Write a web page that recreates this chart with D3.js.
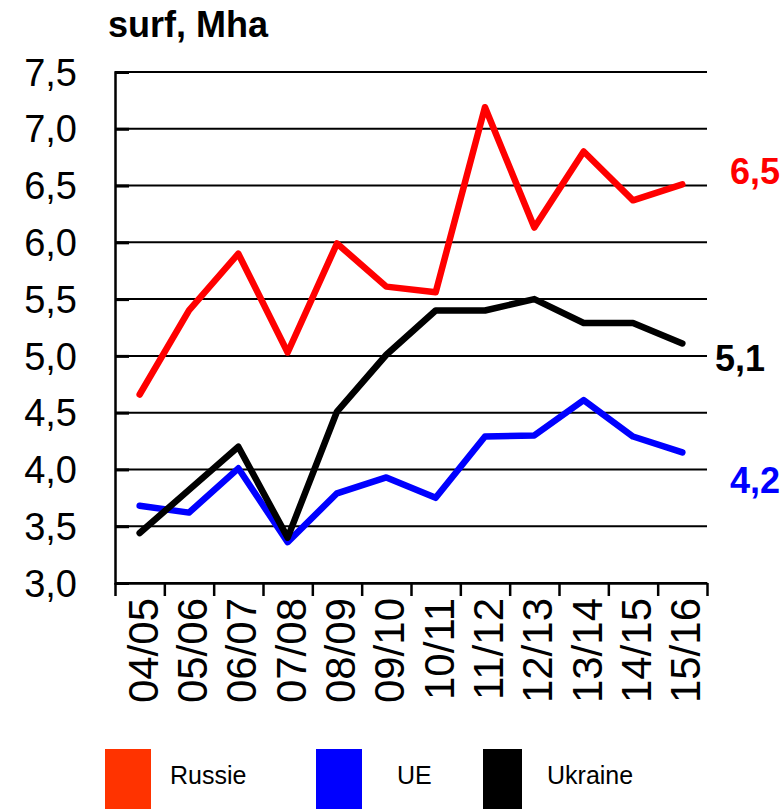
<!DOCTYPE html>
<html>
<head>
<meta charset="utf-8">
<script src="https://cdn.jsdelivr.net/npm/d3@7"></script>
<style>
  body { margin: 0; background: #fff; }
  svg { display: block; font-family: Arial, "Liberation Sans", sans-serif; }
</style>
</head>
<body>
<div id="chart"></div>
<script>
// campaigns on the x axis
var seasons = ["04/05", "05/06", "06/07", "07/08", "08/09", "09/10", "10/11", "11/12", "12/13", "13/14", "14/15", "15/16"];
// surfaces, Mha
var russie  = [4.66, 5.40, 5.90, 5.03, 5.99, 5.61, 5.56, 7.19, 6.13, 6.80, 6.37, 6.51];
var ue      = [3.68, 3.62, 4.01, 3.36, 3.79, 3.93, 3.75, 4.29, 4.30, 4.61, 4.29, 4.15];
var ukraine = [3.44, 3.82, 4.20, 3.40, 4.51, 5.01, 5.40, 5.40, 5.50, 5.29, 5.29, 5.11];
var yTicks = [3.0, 3.5, 4.0, 4.5, 5.0, 5.5, 6.0, 6.5, 7.0, 7.5];
var seriesNames = ["Russie", "UE", "Ukraine"];
var endLabels = ["6,5", "4,2", "5,1"];

var width = 784, height = 809;
var margin = {top: 72, right: 77, bottom: 226, left: 115},
    width_g = width - margin.left - margin.right,
    height_g = height - margin.top - margin.bottom;

var series = [
  {name: seriesNames[0], values: russie,  color: "#ff0000", swatch: "#ff3300", label: endLabels[0], lx: 730, ly: 0,  lgx: 105, lgw: 46, tx: 170},
  {name: seriesNames[1], values: ue,      color: "#0000ff", swatch: "#0000ff", label: endLabels[1], lx: 730, ly: 41, lgx: 316, lgw: 46, tx: 397},
  {name: seriesNames[2], values: ukraine, color: "#000000", swatch: "#000000", label: endLabels[2], lx: 715, ly: 28, lgx: 483, lgw: 39, tx: 547}
];

var svg = d3.select("#chart").append("svg")
    .attr("width", width)
    .attr("height", height);

var x = d3.scaleBand()
    .domain(seasons)
    .range([0, width_g]);
var y = d3.scaleLinear()
    .domain([3, 7.5])
    .range([height_g, 0]);

var frg = svg.append("g")
    .attr("transform", "translate(" + margin.left + "," + margin.top + ")");

// horizontal grid
frg.append("g")
    .attr("class", "grid")
    .selectAll("line")
    .data(yTicks)
    .enter()
    .append("line")
    .attr("x1", 0)
    .attr("x2", width_g)
    .attr("y1", function(d) { return y(d); })
    .attr("y2", function(d) { return y(d); })
    .attr("stroke", "#000")
    .attr("stroke-width", 2);

// y axis: inner ticks, labels far left
var yAxis = d3.axisRight(y)
    .tickValues(yTicks)
    .tickSize(14)
    .tickFormat("");
frg.append("g")
    .attr("class", "axis yaxis")
    .call(yAxis)
    .call(function(g) {
      g.select(".domain").attr("stroke-width", 2.5);
      g.selectAll(".tick line").attr("stroke-width", 3);
    });

frg.append("g")
    .selectAll("text")
    .data(yTicks)
    .enter()
    .append("text")
    .attr("x", -38)
    .attr("y", function(d) { return y(d); })
    .attr("dy", "0.36em")
    .attr("text-anchor", "end")
    .attr("font-size", 38)
    .attr("fill", "#000")
    .text(function(d) { return d3.format(".1f")(d).replace(".", ","); });

// x axis with ticks at band edges
var xEdge = d3.scaleLinear().domain([0, seasons.length]).range([0, width_g]);
var xAxis = d3.axisBottom(xEdge)
    .tickValues(d3.range(seasons.length + 1))
    .tickSize(13)
    .tickSizeOuter(0)
    .tickFormat("");
frg.append("g")
    .attr("class", "axis xaxis")
    .attr("transform", "translate(0," + height_g + ")")
    .call(xAxis)
    .call(function(g) {
      g.select(".domain").attr("stroke-width", 2.5);
      g.selectAll(".tick line").attr("stroke-width", 2.5);
    });

frg.append("g")
    .selectAll("text")
    .data(seasons)
    .enter()
    .append("text")
    .attr("transform", function(d) {
      return "translate(" + (x(d) + x.bandwidth() / 2 + 3) + "," + (height_g + 15) + ") rotate(-90)";
    })
    .attr("dy", "0.36em")
    .attr("text-anchor", "end")
    .attr("font-size", 42)
    .attr("fill", "#000")
    .text(function(d) { return d; });

// lines
var line = d3.line()
    .x(function(d, i) { return x(seasons[i]) + x.bandwidth() / 2; })
    .y(function(d) { return y(d); });

frg.append("g")
    .attr("class", "linegroup")
    .selectAll("path")
    .data(series)
    .enter()
    .append("path")
    .attr("d", function(s) { return line(s.values); })
    .attr("fill", "none")
    .attr("stroke", function(s) { return s.color; })
    .attr("stroke-width", 6.5)
    .attr("stroke-linejoin", "round")
    .attr("stroke-linecap", "round");

// end value labels
svg.append("g")
    .selectAll("text")
    .data(series)
    .enter()
    .append("text")
    .attr("x", function(s) { return s.lx; })
    .attr("y", function(s) { return margin.top + y(s.values[s.values.length - 1]) + s.ly; })
    .attr("font-size", 36)
    .attr("font-weight", "bold")
    .attr("fill", function(s) { return s.color; })
    .text(function(s) { return s.label; });

// title
svg.append("text")
    .attr("x", 108)
    .attr("y", 37)
    .attr("font-size", 36)
    .attr("font-weight", "bold")
    .attr("fill", "#000")
    .text("surf, Mha");

// legend
var legend = svg.append("g").attr("class", "legend");
legend.selectAll("rect")
    .data(series)
    .enter()
    .append("rect")
    .attr("x", function(s) { return s.lgx; })
    .attr("y", 749)
    .attr("width", function(s) { return s.lgw; })
    .attr("height", 60)
    .attr("fill", function(s) { return s.swatch; });
legend.selectAll("text")
    .data(series)
    .enter()
    .append("text")
    .attr("x", function(s) { return s.tx; })
    .attr("y", 784)
    .attr("font-size", 25)
    .attr("fill", "#000")
    .text(function(s) { return s.name; });
</script>
</body>
</html>
